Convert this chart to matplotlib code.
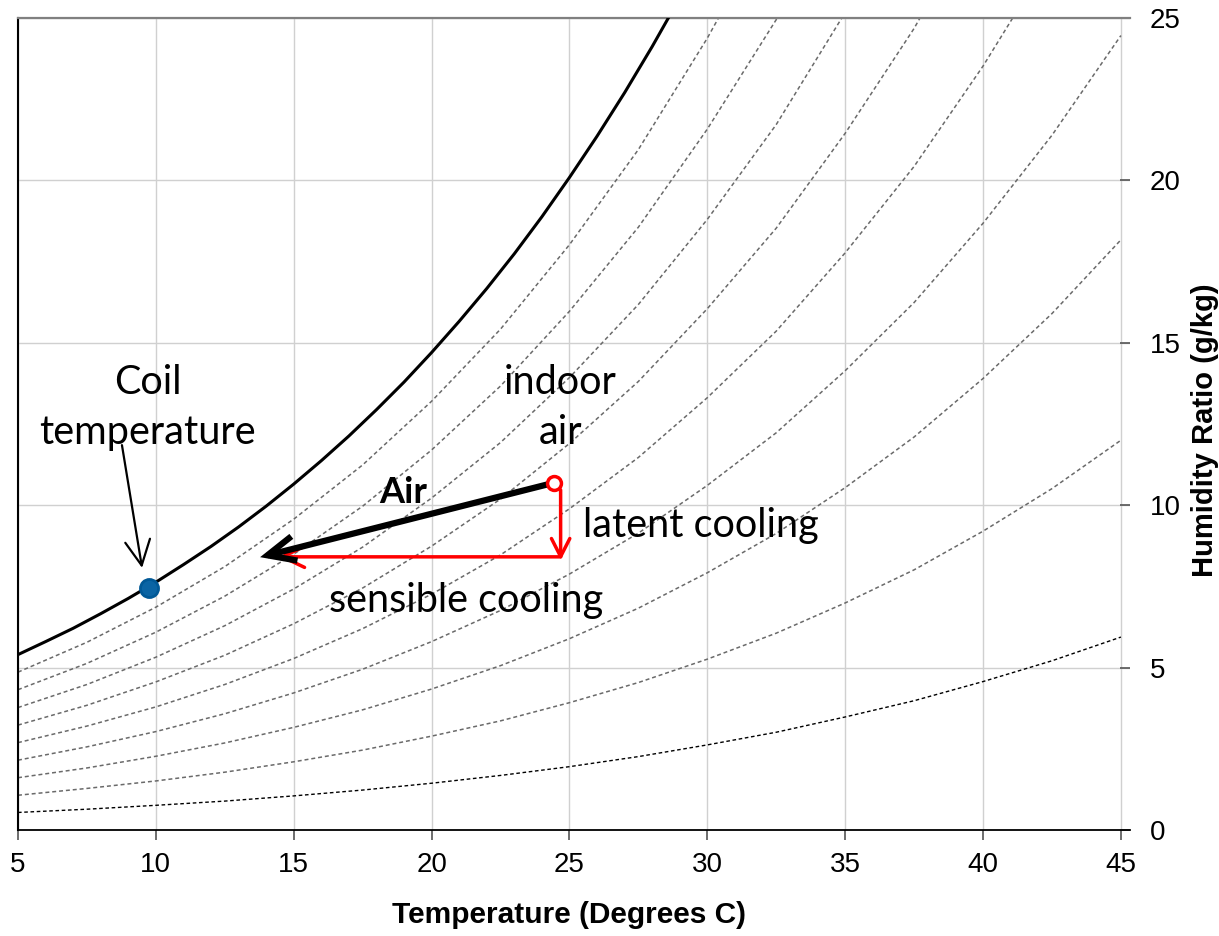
import numpy as np
import matplotlib
matplotlib.use("Agg")
import matplotlib.pyplot as plt
from matplotlib.patches import FancyArrowPatch

nan = np.nan
# Saturation curve: temperature (deg C) and humidity ratio (g/kg)
sat_temps = [5, 6, 7, 8, 9, 10, 11, 12, 13, 14, 15, 16, 17, 18, 19, 20, 21, 22, 23, 24, 25, 26, 27, 28, 29]
sat = [5.40, 5.80, 6.21, 6.66, 7.13, 7.63, 8.17, 8.73, 9.33, 9.97, 10.65, 11.37, 12.13, 12.94,
       13.79, 14.70, 15.66, 16.67, 17.74, 18.88, 20.09, 21.36, 22.70, 24.12, 25.62]

# Relative-humidity curves: temperature (deg C) and humidity ratio (g/kg)
temps = [5, 7.5, 10, 12.5, 15, 17.5, 20, 22.5, 25, 27.5, 30, 32.5, 35, 37.5, 40, 42.5, 45]
rh90 = [4.86, 5.78, 6.86, 8.11, 9.57, 11.24, 13.20, 15.42, 18.02, 20.95, 24.38, 28.21, nan, nan, nan, nan, nan]
rh80 = [4.32, 5.13, 6.09, 7.20, 8.49, 9.97, 11.70, 13.67, 15.97, 18.56, 21.58, 24.95, 28.93, nan, nan, nan, nan]
rh70 = [3.77, 4.48, 5.32, 6.29, 7.42, 8.71, 10.22, 11.93, 13.93, 16.18, 18.80, 21.72, 25.17, 28.98, nan, nan, nan]
rh60 = [3.23, 3.84, 4.56, 5.38, 6.35, 7.45, 8.74, 10.19, 11.90, 13.81, 16.05, 18.53, 21.45, 24.68, 28.44, nan, nan]
rh50 = [2.69, 3.20, 3.79, 4.48, 5.28, 6.20, 7.26, 8.47, 9.89, 11.47, 13.31, 15.36, 17.77, 20.43, 23.52, 26.96, nan]
rh40 = [2.15, 2.56, 3.03, 3.58, 4.22, 4.95, 5.80, 6.76, 7.88, 9.14, 10.61, 12.23, 14.14, 16.24, 18.68, 21.39, 24.46]
rh30 = [1.61, 1.91, 2.27, 2.68, 3.16, 3.70, 4.34, 5.06, 5.89, 6.83, 7.92, 9.13, 10.54, 12.10, 13.90, 15.90, 18.17]
rh20 = [1.07, 1.28, 1.51, 1.78, 2.10, 2.46, 2.89, 3.36, 3.92, 4.54, 5.26, 6.06, 6.99, 8.01, 9.20, 10.51, 12.00]
rh10 = [0.54, 0.64, 0.76, 0.89, 1.05, 1.23, 1.44, 1.68, 1.95, 2.26, 2.62, 3.01, 3.48, 3.98, 4.57, 5.21, 5.94]

# Points (temperature, humidity ratio)
coil_point = (9.75, 7.44)
indoor_point = (24.45, 10.67)
air_end = (13.78, 8.40)
latent_end = (24.68, 8.30)
sensible_start = (24.68, 8.41)
sensible_end = (14.44, 8.41)

x_ticks = [5, 10, 15, 20, 25, 30, 35, 40, 45]
y_ticks = [0, 5, 10, 15, 20, 25]

W, H = 1219, 936
fig = plt.figure(figsize=(W / 100, H / 100), dpi=100)
ax = fig.add_axes([18 / W, (H - 830) / H, 1112 / W, 812 / H])
ax.set_xlim(5, 45.33)
ax.set_ylim(0, 25)

ax.set_xticks(x_ticks)
ax.set_yticks(y_ticks)
ax.grid(True, color="#d0d0d0", lw=1.0, zorder=0)
ax.set_axisbelow(True)

ax.spines["left"].set_color("black")
ax.spines["left"].set_linewidth(1.5)
ax.spines["bottom"].set_color("black")
ax.spines["bottom"].set_linewidth(1.3)
ax.spines["top"].set_color("#808080")
ax.spines["top"].set_linewidth(1.6)
ax.spines["right"].set_visible(False)

ax.yaxis.tick_right()
ax.tick_params(axis="x", direction="out", length=7, width=1.2, color="#555555",
               labelsize=20, pad=9)
ax.tick_params(axis="y", direction="in", length=7, width=1.2, color="#555555",
               labelsize=20, pad=14, right=True, left=False)
for lab in ax.get_xticklabels() + ax.get_yticklabels():
    lab.set_fontfamily("Liberation Sans")

ax.set_xlabel("Temperature (Degrees C)", fontsize=21.5, fontweight="bold",
              family="Liberation Sans")
ax.xaxis.set_label_coords((569 - 18) / 1112, -(915 - 830) / 812)
ax.xaxis.label.set_va("center")
ax.yaxis.set_label_position("right")
ax.set_ylabel("Humidity Ratio (g/kg)", fontsize=21, fontweight="bold",
              family="Liberation Sans", rotation=90)
ax.yaxis.set_label_coords((1205 - 18) / 1112, (830 - 430) / 812)
ax.yaxis.label.set_va("center")
ax.yaxis.label.set_ha("center")

# curves
dash = (0, (2.6, 1.9))
for series in [rh90, rh80, rh70, rh60, rh50, rh40, rh30, rh20]:
    ax.plot(temps, series, color="#6a6a6a", lw=1.1, ls=dash, zorder=2)
ax.plot(temps, rh10, color="black", lw=1.0, ls=dash, zorder=2)
ax.plot(sat_temps, sat, color="black", lw=2.2, zorder=3, solid_capstyle="butt")

# annotations
tfont = dict(family="Lato", fontsize=28.5, ha="center", va="center", color="black")
ax.text(9.71, 13.79, "Coil", **tfont)
ax.text(9.71, 12.25, "temperature", **tfont)
ax.text(24.66, 13.79, "indoor", **tfont)
ax.text(24.66, 12.25, "air", **tfont)
ax.text(18.96, 10.38, "Air", family="Lato", fontsize=26, fontweight="bold",
        ha="center", va="center")
ax.text(29.77, 9.39, "latent cooling", **tfont)
ax.text(21.25, 7.08, "sensible cooling", **tfont)

# coil arrow
ax.add_patch(FancyArrowPatch((8.77, 11.85), (9.50, 8.07),
                             arrowstyle="->,head_length=0.9,head_width=0.45",
                             mutation_scale=20, lw=1.6, color="black",
                             shrinkA=0, shrinkB=0, zorder=5))

# red arrows
ax.add_patch(FancyArrowPatch((latent_end[0], indoor_point[1] - 0.2), latent_end,
                             arrowstyle="->,head_length=0.65,head_width=0.33",
                             mutation_scale=20, lw=2.5, color="#ff0000",
                             shrinkA=0, shrinkB=0, zorder=6))
ax.add_patch(FancyArrowPatch(sensible_start, sensible_end,
                             arrowstyle="->,head_length=0.8,head_width=0.38",
                             mutation_scale=20, lw=2.5, color="#ff0000",
                             shrinkA=0, shrinkB=0, zorder=6))
# black air arrow
ax.add_patch(FancyArrowPatch((indoor_point[0] - 0.2, indoor_point[1] - 0.02), air_end,
                             arrowstyle="->,head_length=1.0,head_width=0.45",
                             mutation_scale=20, lw=4.5, color="black",
                             shrinkA=0, shrinkB=0, zorder=7, joinstyle="miter",
                             capstyle="butt"))

# points
ax.plot([indoor_point[0]], [indoor_point[1]], marker="o", ms=10, mfc="white",
        mec="#ff0000", mew=2.5, zorder=8, ls="none")
ax.plot([coil_point[0]], [coil_point[1]], marker="o", ms=13, mfc="#0a64a4",
        mec="#005896", mew=2, zorder=8, ls="none")

fig.savefig("out.png", dpi=100)
